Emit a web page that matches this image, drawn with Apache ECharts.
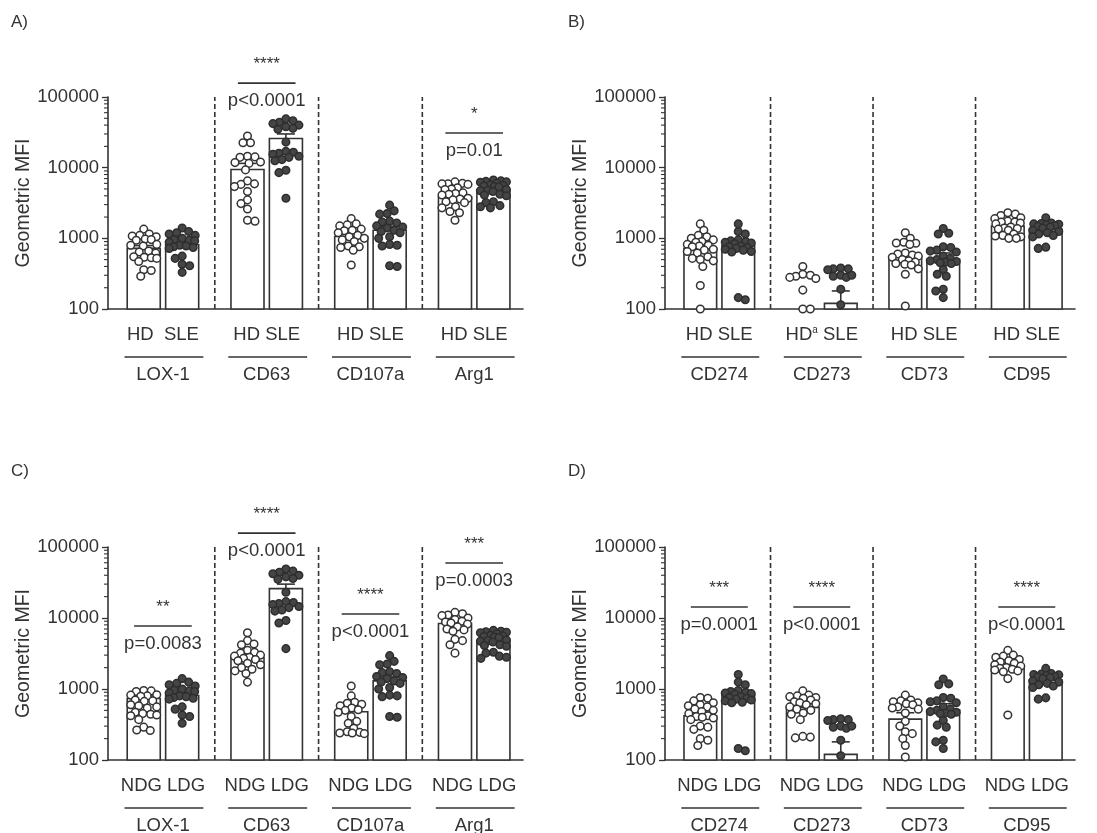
<!DOCTYPE html>
<html>
<head>
<meta charset="utf-8">
<script src="https://cdn.jsdelivr.net/npm/echarts@6/dist/echarts.min.js"></script>
<style>
  html, body { margin: 0; background: #fff; }
  #chart { width: 1097px; height: 833px; }
</style>
</head>
<body>
<div id="chart"></div>
<script>
const FONT = '"Liberation Sans", Arial, Helvetica, sans-serif';
const INK = '#333';

// ---------- data ----------
const markersA = ['LOX-1', 'CD63', 'CD107a', 'Arg1'];
const markersB = ['CD274', 'CD273', 'CD73', 'CD95'];
const pairLabelsA = ['HD  SLE', 'HD SLE', 'HD SLE', 'HD SLE'];
const pairLabelsB = ['HD SLE', 'HD{sup|a} SLE', 'HD SLE', 'HD SLE'];
const pairLabelsC = ['NDG LDG', 'NDG LDG', 'NDG LDG', 'NDG LDG'];
const pairLabelsD = ['NDG LDG', 'NDG LDG', 'NDG LDG', 'NDG LDG'];

// A) HD vs SLE
const hdLox1 = [1350, 1150, 1100, 1080, 1050, 980, 960, 940, 820, 800, 780, 660, 640, 620, 550, 540, 530, 520, 470, 360, 350, 290];
const sleLox1 = [1400, 1250, 1200, 1150, 1100, 1000, 960, 940, 920, 880, 800, 780, 760, 740, 720, 560, 520, 430, 410, 330];
const hdCd63 = [28000, 22500, 22500, 14500, 14000, 14200, 12000, 11800, 11500, 9300, 6500, 5900, 5800, 5400, 4600, 3500, 3100, 2600, 1800, 1750];
const sleCd63 = [49000, 46000, 44000, 42000, 40000, 38000, 36000, 35000, 23000, 17000, 16500, 16000, 15500, 14500, 14000, 13000, 12500, 9200, 8500, 3700];
const hdCd107a = [1900, 1600, 1550, 1500, 1350, 1300, 1280, 1200, 1100, 1050, 1000, 950, 900, 780, 760, 740, 680, 420];
const sleCd107a = [2950, 2450, 2250, 2200, 1750, 1700, 1650, 1500, 1450, 1400, 1300, 1250, 1200, 1050, 1000, 820, 800, 780, 410, 400];
const hdArg1 = [6300, 6000, 5900, 5900, 5800, 5200, 5000, 4900, 4400, 4300, 4200, 4100, 3700, 3600, 3500, 3300, 3200, 2800, 2700, 2400, 2300, 1800];
const sleArg1 = [6700, 6500, 6400, 6300, 6200, 6000, 5700, 5600, 5500, 5400, 5300, 4900, 4800, 4700, 4600, 4200, 4100, 4000, 3300, 3200, 2900, 2800, 2700];
const meansA = [720, 810, 9400, 25900, 1060, 1300, 3880, 4830];
const errTopA = [790, 900, 11500, 30000, 1200, 1480, 4300, 5250];

// B) HD vs SLE
const hdCd274 = [1600, 1300, 1100, 1050, 1000, 950, 900, 880, 820, 800, 780, 760, 700, 680, 650, 620, 550, 520, 500, 480, 400, 215, 100];
const sleCd274 = [1600, 1250, 1150, 950, 920, 900, 880, 860, 840, 780, 760, 740, 720, 700, 680, 650, 640, 145, 135];
const hdCd273 = [400, 310, 300, 290, 280, 270, 185, 100, 100];
const sleCd273 = [380, 370, 370, 360, 300, 290, 280, 300, 190, 115];
const hdCd73 = [1200, 1000, 880, 860, 850, 820, 620, 600, 580, 560, 540, 500, 480, 460, 440, 430, 420, 370, 310, 110];
const sleCd73 = [1380, 1180, 1150, 760, 740, 680, 660, 640, 560, 520, 500, 480, 470, 460, 450, 440, 360, 310, 290, 190, 180, 145];
const hdCd95 = [2300, 2200, 2100, 1950, 1900, 1750, 1700, 1700, 1650, 1600, 1450, 1400, 1380, 1350, 1300, 1150, 1100, 1080, 1050, 1000, 1000];
const sleCd95 = [1950, 1650, 1620, 1600, 1580, 1550, 1500, 1480, 1450, 1400, 1300, 1250, 1200, 1150, 1100, 1050, 750, 720];
const meansB = [720, 800, null, 120, 540, 510, 1490, 1340];
const errTopB = [830, 900, null, 180, 620, 620, 1650, 1450];

// C) NDG vs LDG (LDG values are the SLE sets above)
const ndgLox1 = [950, 940, 920, 830, 820, 800, 790, 700, 680, 670, 600, 580, 560, 540, 470, 450, 440, 430, 420, 370, 290, 265, 260];
const ndgCd63 = [6200, 4800, 4300, 4200, 3500, 3300, 3200, 3000, 2900, 2800, 2700, 2600, 2500, 2300, 2200, 2000, 1900, 1800, 1650, 1250];
const ndgCd107a = [1100, 800, 650, 630, 610, 580, 540, 510, 500, 470, 410, 350, 330, 280, 250, 245, 240, 240, 235];
const ndgArg1 = [12000, 11500, 11000, 10800, 10000, 9500, 9000, 8800, 8500, 8200, 7500, 7000, 6800, 6500, 5000, 4800, 4200, 3200];
const meansC = [736, 810, 2780, 25900, 478, 1300, 8360, 4830];
const errTopC = [800, 900, 3100, 30000, 550, 1480, 9200, 5250];

// D) NDG vs LDG
const ndgCd274 = [760, 740, 680, 640, 600, 580, 560, 520, 500, 480, 450, 420, 410, 400, 390, 370, 300, 290, 270, 200, 190, 160];
const ndgCd273 = [940, 820, 800, 780, 760, 740, 700, 660, 640, 620, 600, 560, 520, 500, 460, 440, 370, 215, 210, 205];
const ndgCd73 = [820, 700, 680, 660, 640, 620, 600, 560, 540, 520, 460, 350, 300, 250, 235, 200, 160, 110];
const ndgCd95 = [3500, 3000, 2900, 2800, 2600, 2500, 2400, 2300, 2200, 2100, 2000, 1950, 1900, 1850, 1800, 1750, 1400, 430];
const meansD = [420, 800, 551, 120, 377, 510, 2100, 1340];
const errTopD = [470, 900, 620, 180, 463, 620, 2300, 1450];

// significance annotations
const sigGroupsA = [1, 3];
const sigStarsA = ['****', '*'];
const sigTextA = ['p<0.0001', 'p=0.01'];
const sigGroupsC = [0, 1, 2, 3];
const sigStarsC = ['**', '****', '****', '***'];
const sigTextC = ['p=0.0083', 'p<0.0001', 'p<0.0001', 'p=0.0003'];
const sigGroupsD = [0, 1, 3];
const sigStarsD = ['***', '****', '****'];
const sigTextD = ['p=0.0001', 'p<0.0001', 'p<0.0001'];

// ---------- layout ----------
const X_MAX = 10.8, X0 = 0.93, GROUP_STEP = 2.7, BAR_HALF = 0.43;
const Y_MIN = 100, Y_MAX = 100000;
const DOT_R = 3.8, DOT_GAP = 7.2, SWARM_LIMIT = 13;

const panels = [
  { letter: 'A)', letterPos: [11, 14], grid: { left: 108, top: 97, width: 415, height: 212 },
    markers: markersA, pairs: pairLabelsA,
    groups: [[hdLox1, sleLox1], [hdCd63, sleCd63], [hdCd107a, sleCd107a], [hdArg1, sleArg1]],
    means: meansA, errTop: errTopA,
    sig: { groups: sigGroupsA, stars: sigStarsA, text: sigTextA, level: [157000, 31000] } },
  { letter: 'B)', letterPos: [568, 14], grid: { left: 665, top: 97, width: 410, height: 212 },
    markers: markersB, pairs: pairLabelsB,
    groups: [[hdCd274, sleCd274], [hdCd273, sleCd273], [hdCd73, sleCd73], [hdCd95, sleCd95]],
    means: meansB, errTop: errTopB,
    sig: { groups: [], stars: [], text: [], level: [] } },
  { letter: 'C)', letterPos: [11, 463], grid: { left: 108, top: 547, width: 415, height: 213 },
    markers: markersA, pairs: pairLabelsC,
    groups: [[ndgLox1, sleLox1], [ndgCd63, sleCd63], [ndgCd107a, sleCd107a], [ndgArg1, sleArg1]],
    means: meansC, errTop: errTopC,
    sig: { groups: sigGroupsC, stars: sigStarsC, text: sigTextC, level: [7700, 157000, 11400, 59600] } },
  { letter: 'D)', letterPos: [568, 463], grid: { left: 665, top: 547, width: 410, height: 213 },
    markers: markersB, pairs: pairLabelsD,
    groups: [[ndgCd274, sleCd274], [ndgCd273, sleCd273], [ndgCd73, sleCd73], [ndgCd95, sleCd95]],
    means: meansD, errTop: errTopD,
    sig: { groups: sigGroupsD, stars: sigStarsD, text: sigTextD, level: [14300, 14300, 14300] } },
];

function xOf(g, i) { return X0 + g * GROUP_STEP + i; }
function groupCenter(g) { return X0 + g * GROUP_STEP + 0.5; }

// beeswarm kept inside the bar: dots overlap a little when a row is full
function swarm(values, pxPerDecade) {
  const order = values.map((v, i) => i).sort((a, b) => values[b] - values[a]);
  const placed = [];
  const dx = new Array(values.length).fill(0);
  let flip = 1;
  order.forEach((i) => {
    const y = Math.log10(values[i]) * pxPerDecade;
    const cands = [];
    for (let c = -SWARM_LIMIT; c <= SWARM_LIMIT; c += 0.5) cands.push(c);
    let best = null, bestScore = -Infinity;
    cands.forEach((c) => {
      let minD = Infinity;
      placed.forEach((p) => { minD = Math.min(minD, Math.hypot(p.x - c, p.y - y)); });
      const fits = minD >= DOT_GAP;
      // prefer any fitting spot closest to the centre, else the roomiest spot
      const score = fits ? 1000 - Math.abs(c) + (c * flip > 0 ? 0.01 : 0) : Math.min(minD, DOT_GAP) - Math.abs(c) * 0.01;
      if (score > bestScore) { bestScore = score; best = c; }
    });
    if (best !== 0) flip = -flip;
    placed.push({ x: best, y });
    dx[i] = best;
  });
  return dx;
}

const minorVals = [];
[100, 1000, 10000].forEach((k) => { for (let m = 2; m <= 9; m++) minorVals.push(m * k); });

const textStyle = (text, x, y, size) => ({
  text, x, y, align: 'center', verticalAlign: 'middle',
  fontSize: size, fontFamily: FONT, fill: INK,
});

const grids = [], xAxes = [], yAxes = [], series = [];

panels.forEach((pn, p) => {
  grids.push({ ...pn.grid, containLabel: false, outerBoundsMode: 'none' });
  xAxes.push({
    type: 'value', gridIndex: p, min: 0, max: X_MAX,
    axisLine: { show: true, onZero: false, lineStyle: { color: INK, width: 1.6 } },
    axisTick: { show: false }, axisLabel: { show: false }, splitLine: { show: false },
  });
  yAxes.push({
    type: 'log', logBase: 10, gridIndex: p, min: Y_MIN, max: Y_MAX,
    axisLine: { show: true, lineStyle: { color: INK, width: 1.6 } },
    axisTick: { show: true, length: 6, lineStyle: { color: INK, width: 1.3 } },
    axisLabel: { fontSize: 18.5, color: INK, fontFamily: FONT, margin: 9,
      formatter: (v) => String(Math.round(v)) },
    splitLine: { show: false },
    name: 'Geometric MFI', nameLocation: 'middle', nameGap: 72,
    nameTextStyle: { fontSize: 19.5, color: INK, fontFamily: FONT },
  });

  const base = { type: 'custom', xAxisIndex: p, yAxisIndex: p, clip: false, silent: true };

  // minor ticks on the log axis
  series.push({ ...base, data: minorVals.map((v) => [0, v]),
    renderItem: (params, api) => {
      const pt = api.coord([0, api.value(1)]);
      return { type: 'line', shape: { x1: pt[0] - 4, y1: pt[1], x2: pt[0], y2: pt[1] },
        style: { stroke: INK, lineWidth: 1.1 } };
    } });

  // dashed separators
  series.push({ ...base, data: [0, 1, 2].map((g) => [X0 + g * GROUP_STEP + (1 + GROUP_STEP) / 2, Y_MIN]),
    renderItem: (params, api) => {
      const x = api.value(0);
      const a = api.coord([x, Y_MIN]), b = api.coord([x, Y_MAX]);
      return { type: 'line', shape: { x1: a[0], y1: a[1], x2: b[0], y2: b[1] },
        style: { stroke: INK, lineWidth: 1.6, lineDash: [5, 3] } };
    } });

  // bars (mean)
  const barData = [];
  const errData = [];
  pn.means.forEach((m, k) => {
    if (m == null) return;
    const x = xOf(Math.floor(k / 2), k % 2);
    barData.push([x, m]);
    errData.push([x, m, pn.errTop[k]]);
  });
  series.push({ ...base, data: barData,
    renderItem: (params, api) => {
      const x = api.value(0), m = api.value(1);
      const tl = api.coord([x - BAR_HALF, m]), br = api.coord([x + BAR_HALF, Y_MIN]);
      return { type: 'rect', shape: { x: tl[0], y: tl[1], width: br[0] - tl[0], height: br[1] - tl[1] },
        style: { fill: '#fff', stroke: INK, lineWidth: 1.6 } };
    } });

  // SEM error bars
  series.push({ ...base, data: errData,
    renderItem: (params, api) => {
      const x = api.value(0);
      const a = api.coord([x, api.value(1)]), b = api.coord([x, api.value(2)]);
      return { type: 'group', children: [
        { type: 'line', shape: { x1: a[0], y1: a[1], x2: b[0], y2: b[1] }, style: { stroke: INK, lineWidth: 1.6 } },
        { type: 'line', shape: { x1: b[0] - 9, y1: b[1], x2: b[0] + 9, y2: b[1] }, style: { stroke: INK, lineWidth: 1.6 } },
      ] };
    } });

  // individual donors
  const pxPerDecade = pn.grid.height / 3;
  const dots = [];
  pn.groups.forEach((pair, g) => {
    pair.forEach((vals, i) => {
      const dx = swarm(vals, pxPerDecade);
      vals.forEach((v, j) => dots.push([xOf(g, i), v, dx[j], i]));
    });
  });
  series.push({ ...base, data: dots,
    renderItem: (params, api) => {
      const c = api.coord([api.value(0), api.value(1)]);
      const filled = api.value(3) === 1;
      return { type: 'circle', shape: { cx: c[0] + api.value(2), cy: c[1], r: DOT_R },
        style: { fill: filled ? '#454545' : '#fff', stroke: filled ? '#2e2e2e' : INK, lineWidth: 1.5 } };
    } });

  // category labels under the axis
  series.push({ ...base, data: [0, 1, 2, 3].map((g) => [groupCenter(g), Y_MIN]),
    renderItem: (params, api) => {
      const g = params.dataIndex;
      const xc = api.value(0);
      const b = api.coord([xc, Y_MIN]);
      const l = api.coord([xc - 1, Y_MIN]), r = api.coord([xc + 1, Y_MIN]);
      const pairStyle = textStyle(pn.pairs[g], b[0], b[1] + 26, 18.5);
      pairStyle.rich = { sup: { fontSize: 10, fontFamily: FONT, fill: INK, verticalAlign: 'top' } };
      return { type: 'group', children: [
        { type: 'text', style: pairStyle },
        { type: 'line', shape: { x1: l[0], y1: b[1] + 48, x2: r[0] + 2, y2: b[1] + 48 },
          style: { stroke: INK, lineWidth: 1.6 } },
        { type: 'text', style: textStyle(pn.markers[g], b[0], b[1] + 66, 18.5) },
      ] };
    } });

  // significance brackets
  if (pn.sig.groups.length) {
    series.push({ ...base, data: pn.sig.groups.map((g, k) => [groupCenter(g), pn.sig.level[k]]),
      renderItem: (params, api) => {
        const k = params.dataIndex;
        const xc = api.value(0), lv = api.value(1);
        const l = api.coord([xc - 0.75, lv]), r = api.coord([xc + 0.75, lv]);
        const cx = (l[0] + r[0]) / 2;
        return { type: 'group', children: [
          { type: 'line', shape: { x1: l[0], y1: l[1], x2: r[0], y2: r[1] }, style: { stroke: INK, lineWidth: 1.6 } },
          { type: 'text', style: textStyle(pn.sig.stars[k], cx, l[1] - 19, 17) },
          { type: 'text', style: textStyle(pn.sig.text[k], cx, l[1] + 18, 18.5) },
        ] };
      } });
  }
});

const chart = echarts.init(document.getElementById('chart'), null, { renderer: 'canvas' });
chart.setOption({
  animation: false,
  backgroundColor: '#fff',
  grid: grids,
  xAxis: xAxes,
  yAxis: yAxes,
  series,
  graphic: panels.map((pn) => ({
    type: 'text', left: pn.letterPos[0], top: pn.letterPos[1],
    style: { text: pn.letter, fontSize: 17, fontFamily: FONT, fill: INK },
  })),
});
</script>
</body>
</html>
